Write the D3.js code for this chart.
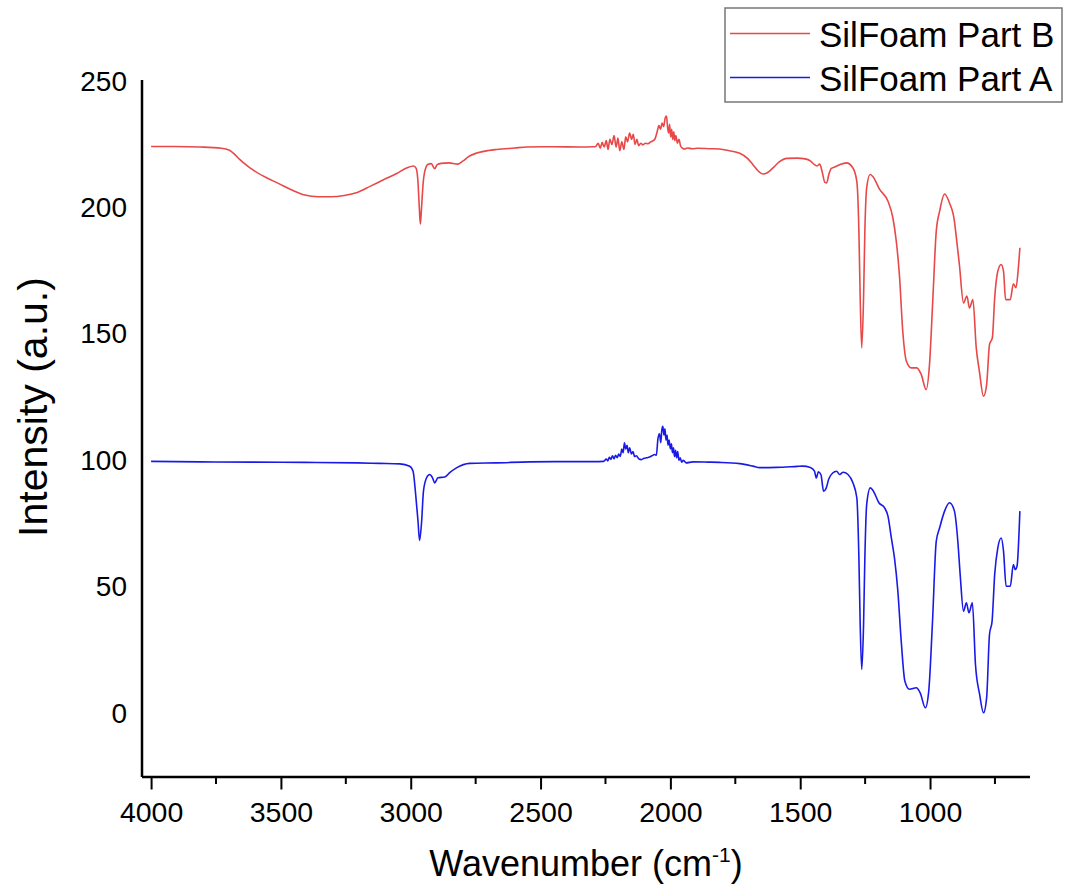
<!DOCTYPE html>
<html>
<head>
<meta charset="utf-8">
<script src="https://cdn.jsdelivr.net/npm/d3@7"></script>
<style>
  body { margin: 0; background: #fff; }
  svg text { font-family: "Liberation Sans", Arial, sans-serif; fill: #000; }
</style>
</head>
<body>
<svg id="svg-ftir" width="1068" height="894"></svg>
<script>
// Series values: [wavenumber, intensity]
var partB = [
  [4000,224.2],[3912,224.2],[3811,224.0],[3730,223.5],[3700,222.8],[3680,221.3],[3660,219.2],
  [3629,216.5],[3609,215],[3559,212],[3508,209.5],[3458,207],[3408,205],[3357,204.3],[3307,204.3],
  [3256,204.8],[3206,206],[3155,208.5],[3105,211],[3054,213.5],[3014,215.8],[2989,216.5],[2979,215.5],
  [2972,210],[2967,200],[2963,193.5],[2959,199],[2952,210],[2943,215.5],[2933,217.2],[2921,217.4],
  [2908,215.4],[2898,217],[2883,217.5],[2853,217.7],[2819,217.2],[2800,218.4],[2772,220.5],[2746,221.6],
  [2701,222.6],[2669,223],[2600,223.6],[2553,224],[2449,224.1],[2348,224.0],[2298,224.1],
  [2288,224.2],[2278,225.5],[2270,223.5],[2263,225.8],[2255,224.0],[2247,226.5],[2240,223.0],[2233,227.0],
  [2225,225.0],[2217,228.5],[2209,224.0],[2202,227.5],[2195,222.5],[2187,226.0],[2179,223.0],[2172,228.0],
  [2165,226.0],[2157,229.5],[2149,227.0],[2143,229.0],[2136,225.0],[2129,227.0],[2122,224.5],[2114,225.5],
  [2106,224.8],[2096,225.5],[2086,225.3],[2076,226.0],[2066,226.5],[2058,227.5],[2051,230.0],[2044,232.5],
  [2038,231.0],[2032,233.5],[2026,232.0],[2020,235.5],[2015,236.2],[2011,232.0],[2007,229.5],[2003,233.0],
  [1999,228.0],[1995,231.0],[1991,227.0],[1987,230.0],[1983,226.5],[1979,228.5],[1973,225.5],[1967,227.0],
  [1961,224.5],[1953,223.5],[1945,223.2],[1935,223.6],[1915,223.3],[1895,223.5],[1844,223.3],[1811,223.2],
  [1773,222.5],[1733,221.5],[1703,219.5],[1682,217.0],[1662,214.5],[1642,213.3],[1627,213.8],[1607,215.5],
  [1582,218],[1551,219.5],[1511,219.6],[1481,219.3],[1461,218.5],[1445,217.0],[1435,216.5],[1425,217.2],
  [1415,214],[1405,210],[1398,209.8],[1390,213],[1380,215.5],[1365,216.2],
  [1348,217.0],[1322,217.7],[1297,215.7],[1282,210.4],[1274,190.7],[1269,164.3],[1263,144.5],[1256,164.3],
  [1251,190.7],[1244,207.8],[1231,213.1],[1221,212.4],[1194,207.2],[1162,202.5],[1143,195.9],[1130,186.7],
  [1118,173.5],[1105,151.1],[1091,139.2],[1072,136.6],[1051,136.6],[1034,134],[1015,128],[1002,138],
  [989,164.3],[976,190.7],[963,198.6],[944,205.4],[925,201.8],[906,194.6],[900,189.4],[887,177.5],
  [871,162.3],[858,165],[848,160.3],[835,163.6],[822,144.5],[810,135.3],[794,125.4],[782,130],
  [771,145.8],[760,148.5],[751,164.3],[739,174.8],[726,177.5],[717,174.8],[709,163.6],[691,163.6],
  [679,169.9],[669,168.3],[661,174.8],[654,184.1]
];
var partA = [
  [4000,99.6],[3811,99.4],[3609,99.3],[3408,99.2],[3206,99.0],[3120,98.8],[3042,98.6],[3004,97.7],
  [2991,95.7],[2981,86.5],[2972,75.9],[2966,68.3],[2958,75.9],[2951,87.8],[2939,93.1],[2927,94.4],
  [2916,93.1],[2908,91.1],[2895,93.1],[2869,93.4],[2850,95.1],[2824,97.0],[2773,98.8],[2670,99.0],
  [2542,99.4],[2399,99.5],[2298,99.5],[2257,99.6],
  [2247,100.5],[2241,99.8],[2235,101.2],[2229,100.4],[2223,101.8],[2217,100.6],[2211,102.0],[2205,101.0],
  [2199,102.5],[2193,101.5],[2187,104.5],[2182,103.0],[2177,106.9],[2172,104.5],[2167,106.0],[2162,103.0],
  [2157,105.0],[2150,102.5],[2144,103.5],[2138,101.5],[2131,101.8],[2121,100.5],[2112,100.3],[2101,100.8],
  [2091,101.0],[2080,101.3],[2071,101.8],[2061,102.3],[2054,102.0],[2048,108.5],[2042,110.5],[2037,107.0],
  [2033,112.0],[2029,113.5],[2025,110.0],[2021,112.5],[2017,108.0],[2013,110.0],[2009,106.0],[2005,108.0],
  [2000,104.5],[1996,106.5],[1992,103.0],[1988,105.0],[1984,101.5],[1980,104.0],[1976,101.0],[1972,103.5],
  [1967,100.0],[1962,101.0],[1957,99.3],[1950,100.0],[1939,99.0],[1914,99.4],[1854,99.3],[1811,99.2],
  [1733,98.7],[1682,97.7],[1656,97.1],[1592,97.2],[1511,97.6],[1491,97.7],[1461,97.2],[1445,95.7],
  [1438,93.0],[1430,95.5],[1420,94.3],[1410,87.8],[1400,89.0],[1390,92.6],[1375,95.0],[1360,95.7],
  [1348,94.4],[1335,95.3],[1316,94.4],[1297,91.1],[1282,85.2],[1274,61.4],[1269,35.1],[1263,17.3],
  [1256,35.1],[1251,61.4],[1244,82.5],[1230,89.1],[1218,87.8],[1197,83.2],[1175,81.2],[1162,77.9],
  [1149,69.3],[1137,61.4],[1124,48.3],[1111,28.5],[1097,12.7],[1079,9.4],[1053,10],[1038,8],
  [1018,2.1],[1005,8.7],[991,35.1],[976,68],[963,73.3],[944,79.9],[925,83.2],[906,79.9],
  [893,68],[884,54.9],[871,40.3],[860,43.6],[850,39.7],[837,43.6],[825,19.2],[809,7.4],
  [794,0.1],[782,6.1],[771,31.1],[761,36.4],[751,54.9],[739,65.4],[726,69.3],[717,64.1],
  [707,50.2],[691,50.2],[679,58.8],[672,56.8],[665,58.1],[654,79.9]
];

// Axis ticks and labels
var xMajorTicks = [4000, 3500, 3000, 2500, 2000, 1500, 1000];
var xMinorTicks = [3750, 3250, 2750, 2250, 1750, 1250, 750];
var yTicks = [0, 50, 100, 150, 200, 250];
var seriesNames = ["SilFoam Part B", "SilFoam Part A"];

// Dimensions
var svg = d3.select("#svg-ftir");
var dim = { left: 142, right: 1030, top: 80, bottom: 777 };

// Colors
var colorB = "#e84848";
var colorA = "#1a1ae6";

var xScale = d3.scaleLinear().domain([4035, 615]).range([dim.left, dim.right]);
var yScale = d3.scaleLinear().domain([-25.3, 250.5]).range([dim.bottom, dim.top]);

var line = d3.line()
  .x(function(d) { return xScale(d[0]); })
  .y(function(d) { return yScale(d[1]); })
  .curve(d3.curveMonotoneX);

// Spectra
var group_lines = svg.append("g").attr("id", "group_lines");
group_lines.append("path")
  .datum(partB)
  .attr("fill", "none")
  .attr("stroke", colorB)
  .attr("stroke-width", 1.6)
  .attr("d", line);
group_lines.append("path")
  .datum(partA)
  .attr("fill", "none")
  .attr("stroke", colorA)
  .attr("stroke-width", 1.6)
  .attr("d", line);

// x axis - major ticks with labels, minor ticks without
var xAxis = d3.axisBottom(xScale)
  .tickValues(xMajorTicks)
  .tickSize(12.5)
  .tickPadding(12)
  .tickFormat(d3.format("d"));
var gx = svg.append("g")
  .attr("transform", "translate(0," + dim.bottom + ")")
  .call(xAxis);
gx.selectAll("text").style("font-size", "28.5px");
gx.selectAll(".tick line").attr("stroke-width", 2);
gx.select(".domain").attr("stroke-width", 2.5).attr("d", "M" + dim.left + ",0H" + dim.right);

svg.append("g")
  .attr("transform", "translate(0," + dim.bottom + ")")
  .selectAll("line")
  .data(xMinorTicks)
  .enter()
  .append("line")
  .attr("x1", function(d) { return xScale(d); })
  .attr("x2", function(d) { return xScale(d); })
  .attr("y1", 0)
  .attr("y2", 7)
  .attr("stroke", "#000")
  .attr("stroke-width", 2);

// y axis - no tick marks, just labels
var yAxis = d3.axisLeft(yScale)
  .tickValues(yTicks)
  .tickSize(0)
  .tickPadding(15);
var gy = svg.append("g")
  .attr("transform", "translate(" + dim.left + ",0)")
  .call(yAxis);
gy.selectAll("text").style("font-size", "28px");
gy.select(".domain").attr("stroke-width", 2.5).attr("d", "M0," + dim.top + "V" + dim.bottom);

// Axis titles
svg.append("text")
  .attr("transform", "translate(47,407) rotate(-90)")
  .attr("text-anchor", "middle")
  .style("font-size", "41px")
  .text("Intensity (a.u.)");

var xt = svg.append("text")
  .attr("x", 586)
  .attr("y", 876)
  .attr("text-anchor", "middle")
  .style("font-size", "36px");
xt.append("tspan").text("Wavenumber (cm");
xt.append("tspan").attr("dy", -14).style("font-size", "21px").text("-1");
xt.append("tspan").attr("dy", 14).text(")");

// Legend
var legend = svg.append("g").attr("id", "legend");
legend.append("rect")
  .attr("x", 725).attr("y", 8)
  .attr("width", 337).attr("height", 94)
  .attr("fill", "#fff")
  .attr("stroke", "#777")
  .attr("stroke-width", 1.5);
var legendColors = [colorB, colorA];
var legendY = [33.5, 77.5];
seriesNames.forEach(function(name, i) {
  legend.append("line")
    .attr("x1", 730).attr("x2", 810)
    .attr("y1", legendY[i]).attr("y2", legendY[i])
    .attr("stroke", legendColors[i])
    .attr("stroke-width", 1.6);
  legend.append("text")
    .attr("x", 819).attr("y", legendY[i] + 13.5)
    .style("font-size", "35px")
    .text(name);
});
</script>
</body>
</html>
